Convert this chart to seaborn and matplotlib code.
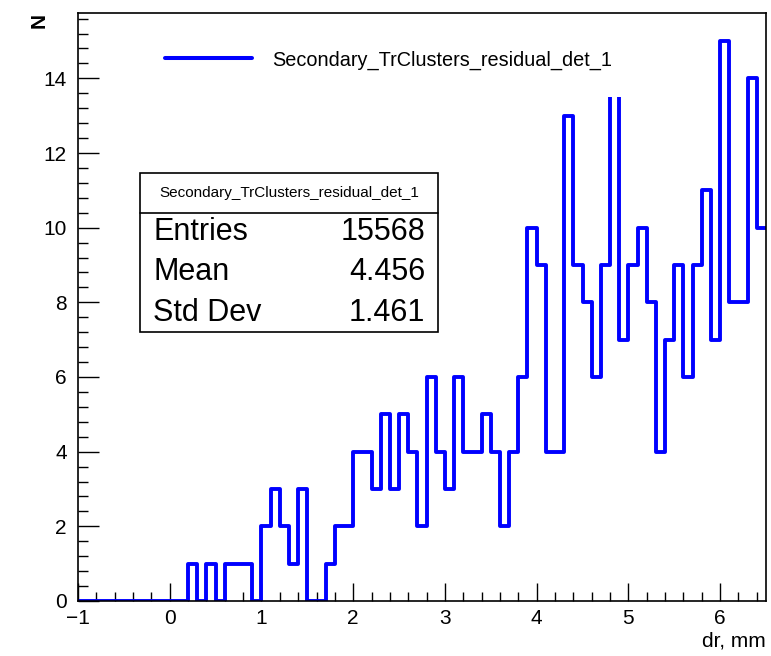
import numpy as np
import pandas as pd
import matplotlib
matplotlib.use("Agg")
import matplotlib.pyplot as plt
from matplotlib.lines import Line2D
from matplotlib.patches import Rectangle
from matplotlib.ticker import MultipleLocator
import seaborn as sns

# Histogram binning: 75 bins of width 0.1 from -1 to 6.5
x_range = (-1.0, 6.5)
n_bins = 75
bin_edges = np.linspace(x_range[0], x_range[1], n_bins + 1)
bin_centers = np.round((bin_edges[:-1] + bin_edges[1:]) / 2, 3)

# Counts per bin
counts = [
    0, 0, 0, 0, 0, 0, 0, 0, 0, 0, 0, 0,      # -1.0 .. 0.1
    1, 0, 1, 0, 1, 1, 1, 0,                  # 0.2 .. 0.9
    2, 3, 2, 1, 3, 0, 0, 1, 2, 2,            # 1.0 .. 1.9
    4, 4, 3, 5, 3, 5, 4, 2, 6, 4,            # 2.0 .. 2.9
    3, 6, 4, 4, 5, 4, 2, 4, 6, 10,           # 3.0 .. 3.9
    9, 4, 4, 13, 9, 8, 6, 9, 14, 7,          # 4.0 .. 4.9
    9, 10, 8, 4, 7, 9, 6, 9, 11, 7,          # 5.0 .. 5.9
    15, 8, 8, 14, 10,                        # 6.0 .. 6.4
]

hist_name = "Secondary_TrClusters_residual_det_1"
stat_labels = ["Entries", "Mean", "Std Dev"]
stat_values = ["15568", "4.456", "1.461"]

x_ticks = [-1, 0, 1, 2, 3, 4, 5, 6]
y_ticks = [0, 2, 4, 6, 8, 10, 12, 14]

df = pd.DataFrame({"dr": bin_centers, "N": counts})

sns.set_theme(style="ticks")
plt.rcParams["font.family"] = ["Liberation Sans", "DejaVu Sans"]
plt.rcParams.update({"text.color": "black", "axes.labelcolor": "black",
                     "xtick.color": "black", "ytick.color": "black"})

W, H = 771, 656
fig = plt.figure(figsize=(W / 100, H / 100), dpi=100)
ax_l, ax_r, ax_t, ax_b = 78, 766, 13, 601
ax = fig.add_axes([ax_l / W, 1 - ax_b / H, (ax_r - ax_l) / W, (ax_b - ax_t) / H])

blue = (0, 0, 1)
sns.histplot(data=df, x="dr", weights="N", bins=n_bins, binrange=x_range,
             element="step", fill=False, color=blue, linewidth=2.8, ax=ax)

ax.set_xlim(*x_range)
ax.set_ylim(0, 15.75)
ax.set_xticks(x_ticks)
ax.set_yticks(y_ticks)
ax.xaxis.set_minor_locator(MultipleLocator(0.2))
ax.yaxis.set_minor_locator(MultipleLocator(0.4))

for s in ax.spines.values():
    s.set_visible(True)
    s.set_linewidth(1.2)
    s.set_color("black")

ax.tick_params(axis="both", which="both", direction="in", top=False, right=False,
               colors="black", labelcolor="black", width=1.0, labelsize=15)
ax.tick_params(axis="x", which="major", length=12.7, pad=6)
ax.tick_params(axis="x", which="minor", length=6.3)
ax.tick_params(axis="y", which="major", length=14.8, pad=8)
ax.tick_params(axis="y", which="minor", length=7.4)

ax.set_xlabel("dr, mm", loc="right", fontsize=15, labelpad=2, color="black")
ax.set_ylabel("N", loc="top", fontsize=15, labelpad=-4, color="black",
              fontweight="bold")
ax.grid(False)

# Legend: white box without border, placed near the top left
handle = Line2D([], [], color=blue, linewidth=2.9)
fs_leg = 14.3
leg = ax.legend([handle], [hist_name], loc="center left",
                bbox_to_anchor=((137 - ax_l) / (ax_r - ax_l), 1 - (60 - ax_t) / (ax_b - ax_t)),
                borderaxespad=0, borderpad=1.4, handlelength=4.4, handletextpad=1.0,
                fontsize=fs_leg, frameon=True, fancybox=False, labelcolor="black")
leg.get_frame().set_facecolor("white")
leg.get_frame().set_edgecolor("none")
leg.get_frame().set_alpha(1.0)

# Statistics box
def ax_x(px):
    return (px - ax_l) / (ax_r - ax_l)

def ax_y(py):
    return 1 - (py - ax_t) / (ax_b - ax_t)

bx0, bx1, by0, by1 = 140, 438, 173, 332
ax.add_patch(Rectangle((ax_x(bx0), ax_y(by1)), ax_x(bx1) - ax_x(bx0), ax_y(by0) - ax_y(by1),
                       transform=ax.transAxes, facecolor="white", edgecolor="black",
                       linewidth=1.2, zorder=6))
ax.add_line(Line2D([ax_x(bx0), ax_x(bx1)], [ax_y(213), ax_y(213)], transform=ax.transAxes,
                   color="black", linewidth=1.2, zorder=7))
ax.text(ax_x((bx0 + bx1) / 2), ax_y(193), hist_name, transform=ax.transAxes,
        ha="center", va="center", fontsize=11, color="black", zorder=8)
for i, (lab, val) in enumerate(zip(stat_labels, stat_values)):
    yy = ax_y(232 + 40.5 * i)
    ax.text(ax_x(153), yy, lab, transform=ax.transAxes, ha="left", va="center",
            fontsize=22, color="black", zorder=8)
    ax.text(ax_x(425), yy, val, transform=ax.transAxes, ha="right", va="center",
            fontsize=22, color="black", zorder=8)

fig.savefig("out.png", dpi=100, facecolor="white")
